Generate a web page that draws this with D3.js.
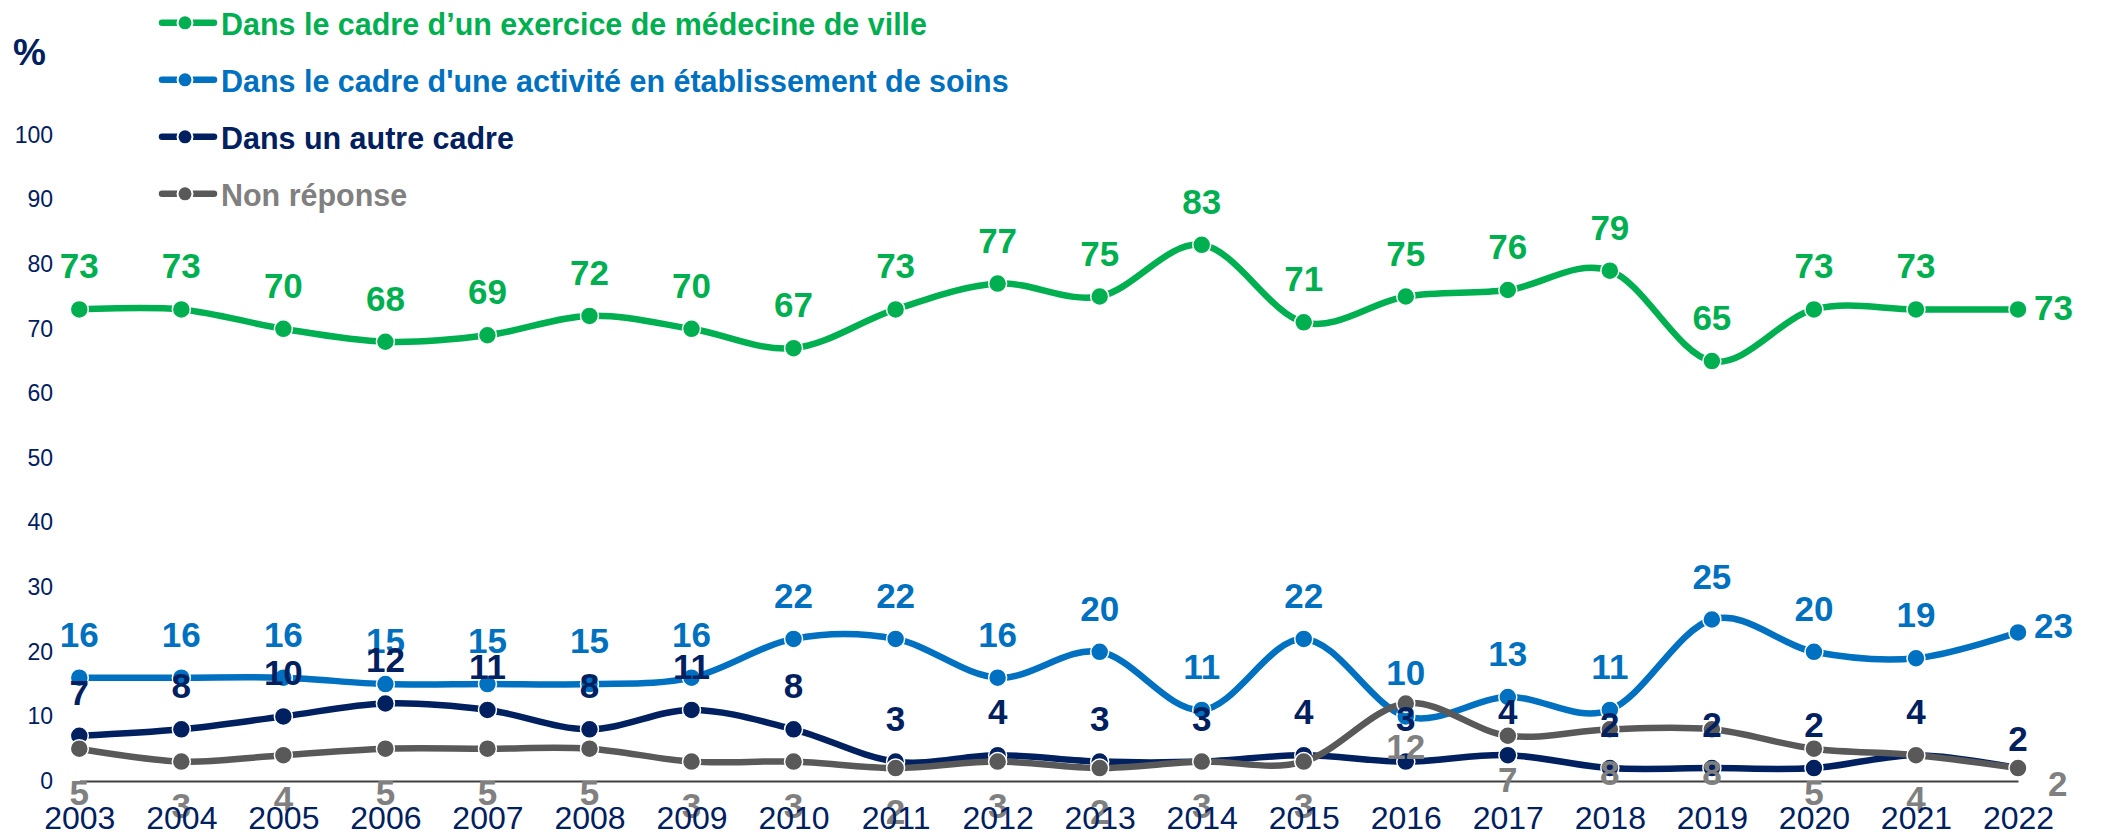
<!DOCTYPE html>
<html>
<head>
<meta charset="utf-8">
<script src="https://cdn.jsdelivr.net/npm/d3@7"></script>
<style>
  body { margin: 0; background: #fff; }
  svg { display: block; }
</style>
</head>
<body>
<script>
// chart values
const years = ["2003", "2004", "2005", "2006", "2007", "2008", "2009", "2010", "2011", "2012",
               "2013", "2014", "2015", "2016", "2017", "2018", "2019", "2020", "2021", "2022"];
const ville   = [73, 73, 70, 68, 69, 72, 70, 67, 73, 77, 75, 83, 71, 75, 76, 79, 65, 73, 73, 73];
const etab    = [16, 16, 16, 15, 15, 15, 16, 22, 22, 16, 20, 11, 22, 10, 13, 11, 25, 20, 19, 23];
const autre   = [7, 8, 10, 12, 11, 8, 11, 8, 3, 4, 3, 3, 4, 3, 4, 2, 2, 2, 4, 2];
const nonRep  = [5, 3, 4, 5, 5, 5, 3, 3, 2, 3, 2, 3, 3, 12, 7, 8, 8, 5, 4, 2];
const seriesNames = [
  "Dans le cadre d\u2019un exercice de médecine de ville",
  "Dans le cadre d'une activité en établissement de soins",
  "Dans un autre cadre",
  "Non réponse"
];
const yTicks = [0, 10, 20, 30, 40, 50, 60, 70, 80, 90, 100];

const width = 2104, height = 835;

const series = [
  { name: seriesNames[0], values: ville,  line: "#00B050", text: "#00B050", pos: "above", last: { dx: 16, dy: 11, anchor: "start" } },
  { name: seriesNames[1], values: etab,   line: "#0070C0", text: "#0070C0", pos: "above", last: { dx: 16, dy: 6, anchor: "start" } },
  { name: seriesNames[2], values: autre,  line: "#002060", text: "#002060", pos: "above", last: { dx: 0, dy: -17, anchor: "middle" } },
  { name: seriesNames[3], values: nonRep, line: "#595959", text: "#808080", pos: "below", last: { dx: 30, dy: 28, anchor: "start" } }
];

const svg = d3.select("body").append("svg")
  .attr("width", width)
  .attr("height", height);

const x = d3.scalePoint().domain(years).range([79.3, 2018]);
const y = d3.scaleLinear().domain([0, 100]).range([781, 135]);

// horizontal axis line
svg.append("g")
  .attr("transform", "translate(0,781)")
  .call(d3.axisBottom(x).tickSize(0).tickSizeOuter(0).tickFormat(""))
  .call(g => g.select(".domain").attr("stroke", "#404040").attr("stroke-width", 2))
  .call(g => g.selectAll(".tick").remove());

// y axis labels
svg.append("g")
  .attr("transform", "translate(53,0)")
  .call(d3.axisLeft(y).tickValues(yTicks).tickSize(0).tickPadding(0))
  .call(g => g.select(".domain").remove())
  .call(g => g.selectAll("text")
    .attr("fill", "#002060")
    .attr("font-family", "'Liberation Sans', Arial, sans-serif")
    .attr("font-size", 23));

svg.append("text")
  .attr("x", 13)
  .attr("y", 65)
  .attr("fill", "#002060")
  .attr("font-family", "'Liberation Sans', Arial, sans-serif")
  .attr("font-weight", "bold")
  .attr("font-size", 37)
  .text("%");

const line = d3.line()
  .x((d, i) => x(years[i]))
  .y(d => y(d))
  .curve(d3.curveCatmullRom.alpha(0));

series.forEach(s => {
  svg.append("path")
    .datum(s.values)
    .attr("d", line)
    .attr("fill", "none")
    .attr("stroke", s.line)
    .attr("stroke-width", 6.5)
    .attr("stroke-linejoin", "round");

  svg.append("g")
    .selectAll("circle")
    .data(s.values)
    .enter()
    .append("circle")
    .attr("cx", (d, i) => x(years[i]))
    .attr("cy", d => y(d))
    .attr("r", 9)
    .attr("fill", s.line)
    .attr("stroke", "#fff")
    .attr("stroke-width", 1.5);
});

// data labels
series.forEach(s => {
  const n = s.values.length;
  svg.append("g")
    .selectAll("text")
    .data(s.values)
    .enter()
    .append("text")
    .attr("x", (d, i) => x(years[i]) + (i === n - 1 ? s.last.dx : 0))
    .attr("y", (d, i) => y(d) + (i === n - 1 ? s.last.dy : (s.pos === "above" ? -31 : 56)))
    .attr("text-anchor", (d, i) => i === n - 1 ? s.last.anchor : "middle")
    .attr("fill", s.text)
    .attr("font-family", "'Liberation Sans', Arial, sans-serif")
    .attr("font-weight", "bold")
    .attr("font-size", 35)
    .text(d => d);
});

// year labels on top
svg.append("g")
  .attr("transform", "translate(0,781)")
  .call(d3.axisBottom(x).tickSize(0).tickPadding(25.3))
  .call(g => g.select(".domain").remove())
  .call(g => g.selectAll("text")
    .attr("fill", "#002060")
    .attr("font-family", "'Liberation Sans', Arial, sans-serif")
    .attr("font-size", 32));

// legend
const legend = svg.append("g");
const legendTexts = [];
series.forEach((s, i) => {
  const base = 34.6 + i * 57;
  const cy = base - 11.8;
  const row = legend.append("g");
  row.append("line")
    .attr("x1", 162).attr("x2", 214)
    .attr("y1", cy).attr("y2", cy)
    .attr("stroke", s.line)
    .attr("stroke-width", 6.5)
    .attr("stroke-linecap", "round");
  row.append("circle")
    .attr("cx", 185).attr("cy", cy)
    .attr("r", 7.5)
    .attr("fill", s.line)
    .attr("stroke", "#fff")
    .attr("stroke-width", 2);
  legendTexts.push(row.append("text")
    .attr("x", 221)
    .attr("y", base)
    .attr("fill", s.text)
    .attr("font-family", "'Liberation Sans', Arial, sans-serif")
    .attr("font-weight", "bold")
    .attr("font-size", 32)
    .text(s.name));
});

// condense the legend a little, like the narrow font of the original
const k = 706 / legendTexts[0].node().getComputedTextLength();
legendTexts.forEach(t => {
  const w = t.node().getComputedTextLength();
  t.attr("textLength", w * k).attr("lengthAdjust", "spacingAndGlyphs");
});
</script>
</body>
</html>
